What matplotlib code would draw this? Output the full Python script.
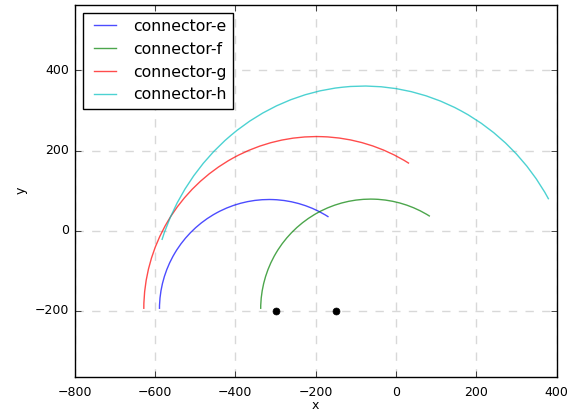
import matplotlib
matplotlib.use("Agg")
from matplotlib import pyplot as plt
from matplotlib.patches import Arc
from matplotlib.lines import Line2D

labels = ["connector-e", "connector-f", "connector-g", "connector-h"]
colors = ["b", "g", "r", "c"]
center_x = [-316, -63, -198, -80]
center_y = [-195, -195, -195, -200]
arc_w = [546, 548, 860, 1060]
arc_h = [546, 548, 860, 1122]
theta_start = [57.2, 57.5, 57.6, 31.2]
theta_end = [180, 180, 180, 160.6]

dots_x = [-300, -150]
dots_y = [-200, -200]

if __name__ == "__main__":
    plt.style.use("classic")
    plt.rcParams["font.size"] = 9

    fig = plt.figure(figsize=(5.81, 4.12), dpi=100)
    ax = fig.add_axes([0.1286, 0.0857, 0.8296, 0.9029])

    handles = []
    for i in range(len(labels)):
        arc = Arc((center_x[i], center_y[i]), arc_w[i], arc_h[i],
                  theta1=theta_start[i], theta2=theta_end[i],
                  color=colors[i], alpha=0.7, lw=1.0)
        ax.add_patch(arc)
        handles.append(Line2D([], [], color=colors[i], alpha=0.7, lw=1.0))

    ax.plot(dots_x, dots_y, "ko", ms=5)

    ax.set_xlim(-800, 400)
    ax.set_ylim(-364, 564)
    ax.set_yticks([-200, 0, 200, 400])
    ax.tick_params(axis="x", pad=7)
    ax.grid(True, ls="--", color="#d8d8d8", lw=1.0)
    ax.set_axisbelow(True)
    ax.set_xlabel("x", labelpad=0)
    ax.set_ylabel("y")
    ax.legend(handles, labels, loc="upper left", prop={"size": 11.3})

    fig.savefig("out.png", dpi=100)
